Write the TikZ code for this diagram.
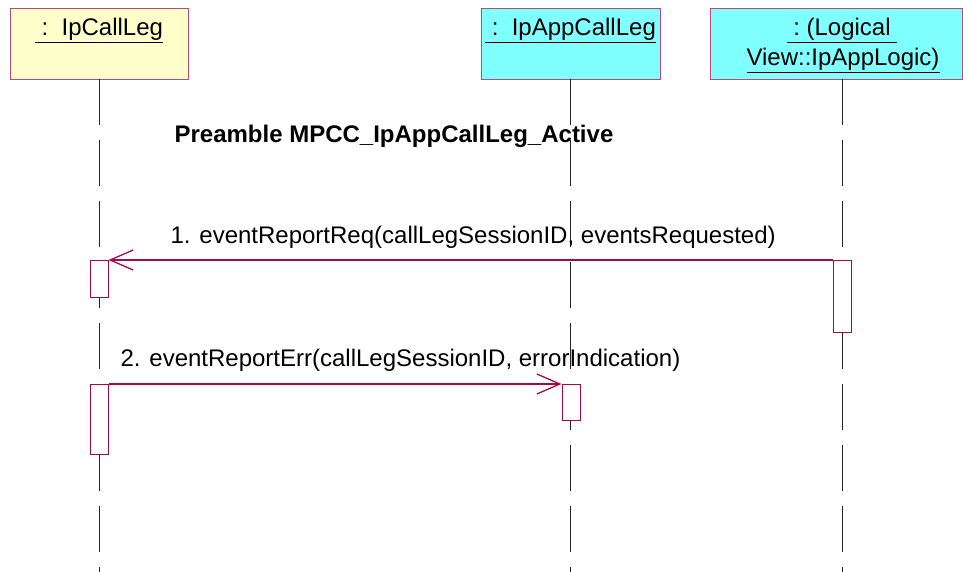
\documentclass[tikz,border=0pt]{standalone}
\usepackage{fontspec}
\setmainfont{Liberation Sans}
\usetikzlibrary{arrows.meta,positioning}
\definecolor{umlred}{RGB}{165,10,70}
\definecolor{objyellow}{RGB}{255,255,204}
\definecolor{objcyan}{RGB}{128,255,255}

\begin{document}
\begin{tikzpicture}[x=1pt,y=-1pt,font=\fontsize{24}{27}\selectfont,
  objbox/.style={draw=umlred!75,line width=1pt,minimum height=71pt,anchor=north,inner sep=0pt},
  lifeline/.style={black!85,line width=0.8pt,dash pattern=on 46pt off 15pt},
  actbox/.style={draw=umlred,fill=white,line width=1pt,minimum width=18pt,anchor=north,inner sep=0pt},
  msg/.style={umlred,line width=1.1pt,-{Straight Barb[length=23pt,width=20pt,line width=1.3pt]}}]
\useasboundingbox (0,0) rectangle (963,572);
% objects
\node[objbox,fill=objyellow,minimum width=178pt] (callleg) at (99,8) {};
\node[objbox,fill=objcyan,minimum width=179pt] (appcallleg) at (570.5,8) {};
\node[objbox,fill=objcyan,minimum width=252pt] (applogic) at (836,8) {};
\node[anchor=base] (calllegname) at (99,36) {\underline{~:~~IpCallLeg}};
\node[anchor=base] (appcalllegname) at (570.5,36) {\underline{~:~~IpAppCallLeg}};
\node[anchor=base] (applogicname) at (842,36) {\underline{~:~(Logical~}};
\node[anchor=base] (applogicname2) at (843,66) {\underline{View::IpAppLogic)}};
% lifelines
\foreach \o/\x in {callleg/99,appcallleg/570,applogic/842}
  {\draw[lifeline] (\x,79) -- (\x,572);}
% activations
\node[actbox,minimum height=37pt] (act1) at (99,260) {};
\node[actbox,minimum height=72pt] (act4) at (842.5,260) {};
\node[actbox,minimum height=70pt] (act2) at (99,384) {};
\node[actbox,minimum height=36pt] (act3) at (571,384) {};
% messages
\node[font=\fontsize{24}{27}\bfseries] (pre) at (394,136) {Preamble MPCC\_IpAppCallLeg\_Active};
\draw[msg] (act4.north west) -- (act1.north east);
\node[anchor=west] (msg1) at (167,237) {1. eventReportReq(callLegSessionID, eventsRequested)};
\draw[msg] (act2.north east) -- (act3.north west);
\node[anchor=west] (msg2) at (117,360) {2. eventReportErr(callLegSessionID, errorIndication)};
\end{tikzpicture}
\end{document}
